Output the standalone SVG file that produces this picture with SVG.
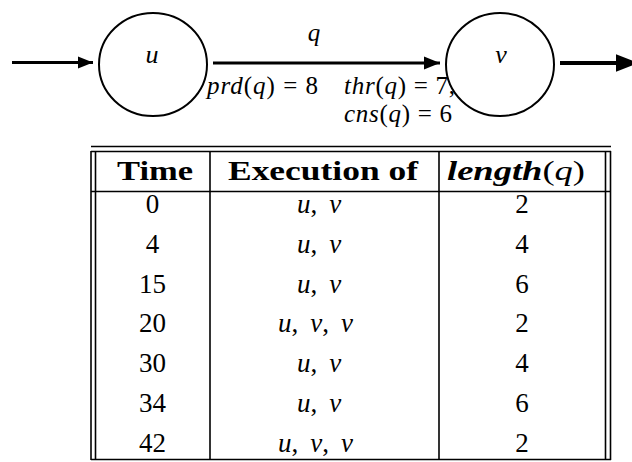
<svg xmlns="http://www.w3.org/2000/svg" width="632" height="462" viewBox="0 0 632 462">
<defs>
<style>
.t{font-family:"Liberation Serif","DejaVu Serif",serif;fill:#000}
.m{font-style:italic}
.b{font-weight:bold}
.node{fill:none;stroke:#000;stroke-width:2}
.rule{stroke:#000;stroke-width:1.6;fill:none}
</style>
<marker id="ah" viewBox="0 0 10 8" refX="10" refY="4" markerWidth="5.5" markerHeight="4.4" markerUnits="strokeWidth" orient="auto"><path d="M0,0 L10,4 L0,8 z" fill="#000"/></marker>
</defs>
<g id="node-u">
<ellipse class="node" cx="153" cy="64.5" rx="54" ry="51.5"/>
<text class="t m" x="152" y="63" font-size="26" text-anchor="middle">u</text>
</g>
<g id="node-v">
<ellipse class="node" cx="500" cy="64.5" rx="54" ry="51.5"/>
<text class="t m" x="501" y="63" font-size="26" text-anchor="middle">v</text>
</g>
<g id="connectors">
<line x1="12" y1="62.5" x2="93" y2="62.5" stroke="#000" stroke-width="2.8" marker-end="url(#ah)"/>
<line x1="213" y1="63" x2="440" y2="63" stroke="#000" stroke-width="3" marker-end="url(#ah)"/>
<line x1="560" y1="63" x2="638" y2="63" stroke="#000" stroke-width="4" marker-end="url(#ah)"/>
</g>
<g id="edge-labels" font-size="25">
<text class="t m" x="314" y="41" text-anchor="middle">q</text>
<text class="t" x="207" y="94" textLength="111" lengthAdjust="spacing"><tspan class="m">prd</tspan>(<tspan class="m">q</tspan>) = 8</text>
<text class="t" x="344" y="94" textLength="111" lengthAdjust="spacing"><tspan class="m">thr</tspan>(<tspan class="m">q</tspan>) = 7,</text>
<text class="t" x="344" y="122" textLength="108" lengthAdjust="spacing"><tspan class="m">cns</tspan>(<tspan class="m">q</tspan>) = 6</text>
</g>
<g id="table">
<line class="rule" x1="91" y1="146.5" x2="611" y2="146.5"/>
<line class="rule" x1="91" y1="151.5" x2="611" y2="151.5"/>
<line class="rule" x1="91" y1="191.5" x2="611" y2="191.5"/>
<line class="rule" x1="91" y1="459.5" x2="611" y2="459.5"/>
<line class="rule" x1="91" y1="151" x2="91" y2="460"/>
<line class="rule" x1="95.5" y1="151" x2="95.5" y2="460"/>
<line class="rule" x1="210" y1="151" x2="210" y2="460"/>
<line class="rule" x1="439" y1="151" x2="439" y2="460"/>
<line class="rule" x1="605.5" y1="151" x2="605.5" y2="460"/>
<line class="rule" x1="610.5" y1="151" x2="610.5" y2="460"/>
<g font-size="27">
<text class="t b" x="117" y="180" textLength="76" lengthAdjust="spacingAndGlyphs">Time</text>
<text class="t b" x="228" y="180" textLength="190" lengthAdjust="spacingAndGlyphs">Execution of</text>
<text class="t" x="447" y="180" textLength="138" lengthAdjust="spacingAndGlyphs"><tspan class="b m">length</tspan>(<tspan class="m">q</tspan>)</text>
</g>
<g font-size="27" text-anchor="middle">
<text class="t" x="152.5" y="213">0</text>
<text class="t" x="152.5" y="253">4</text>
<text class="t" x="152.5" y="293">15</text>
<text class="t" x="152.5" y="332">20</text>
<text class="t" x="152.5" y="372">30</text>
<text class="t" x="152.5" y="412">34</text>
<text class="t" x="152.5" y="452">42</text>
<text class="t" x="522" y="213">2</text>
<text class="t" x="522" y="253">4</text>
<text class="t" x="522" y="293">6</text>
<text class="t" x="522" y="332">2</text>
<text class="t" x="522" y="372">4</text>
<text class="t" x="522" y="412">6</text>
<text class="t" x="522" y="452">2</text>
</g>
<g font-size="27">
<text class="t" x="297" y="213"><tspan class="m">u</tspan>,<tspan class="m" dx="12">v</tspan></text>
<text class="t" x="297" y="253"><tspan class="m">u</tspan>,<tspan class="m" dx="12">v</tspan></text>
<text class="t" x="297" y="293"><tspan class="m">u</tspan>,<tspan class="m" dx="12">v</tspan></text>
<text class="t" x="278" y="332"><tspan class="m">u</tspan>,<tspan class="m" dx="12">v</tspan>,<tspan class="m" dx="12">v</tspan></text>
<text class="t" x="297" y="372"><tspan class="m">u</tspan>,<tspan class="m" dx="12">v</tspan></text>
<text class="t" x="297" y="412"><tspan class="m">u</tspan>,<tspan class="m" dx="12">v</tspan></text>
<text class="t" x="278" y="452"><tspan class="m">u</tspan>,<tspan class="m" dx="12">v</tspan>,<tspan class="m" dx="12">v</tspan></text>
</g>
</g>
</svg>
